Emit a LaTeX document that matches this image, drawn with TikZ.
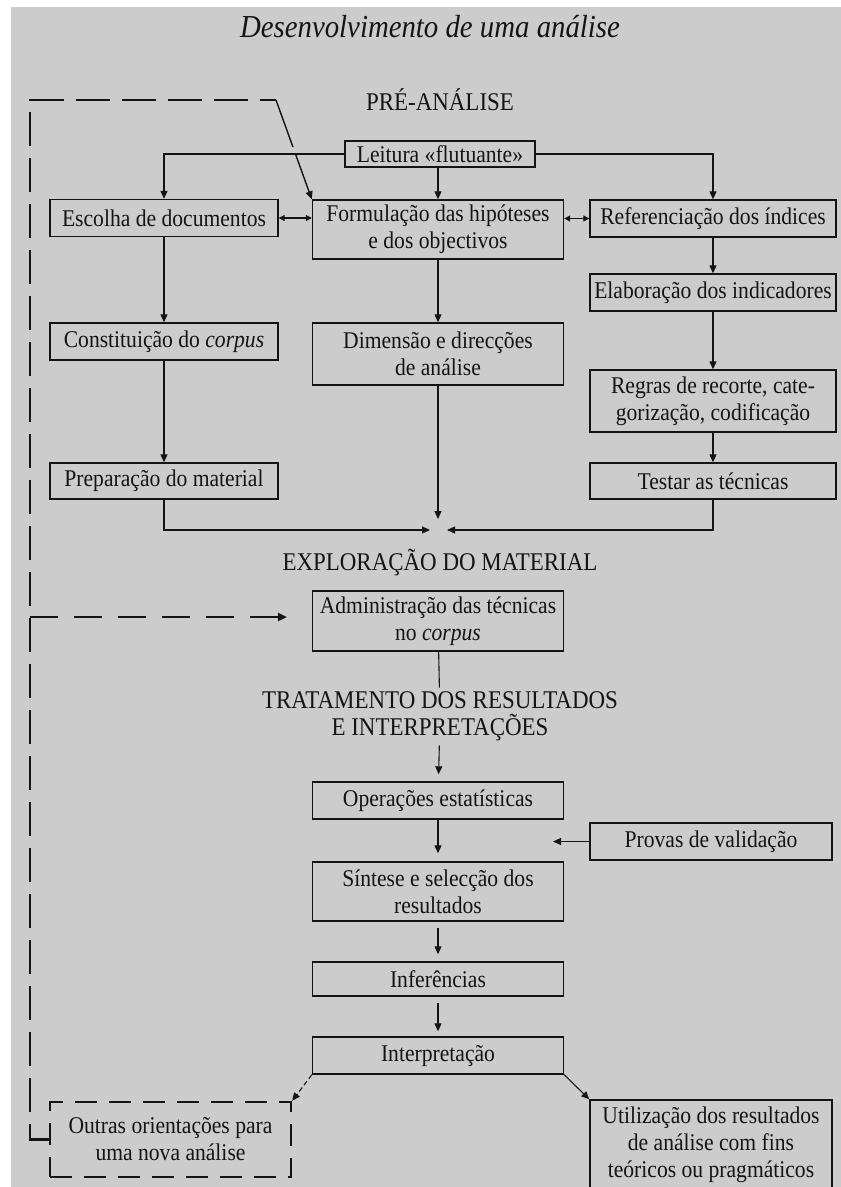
\documentclass[tikz,border=0pt]{standalone}
\usepackage{fontspec}
\setmainfont{Liberation Serif}[FakeStretch=0.9]
\definecolor{dgFundo}{HTML}{CCCCCC}
\definecolor{dgTinta}{HTML}{141414}
\usetikzlibrary{calc,positioning,arrows.meta}

\begin{document}
\begin{tikzpicture}[x=1pt, y=-1pt,
  etapa/.style={draw=dgTinta, line width=1.4pt, text=dgTinta,
    minimum width=#1, minimum height=37pt, inner xsep=1pt, inner ysep=1pt,
    align=center, font=\fontsize{24}{27}\selectfont},
  etapa/.default=251pt,
  fase/.style={text=dgTinta, align=center, font=\fontsize{25.5}{27}\selectfont},
  arr/.style={-{Triangle[length=8pt, width=7pt]}, line width=1.1pt, color=dgTinta},
  dupla/.style={{Triangle[length=6pt, width=6pt]}-{Triangle[length=6pt, width=6pt]},
    line width=1.1pt, color=dgTinta},
  retorno/.style={line width=2.2pt, color=dgTinta, dash pattern=on 34pt off 12pt}
]
  \useasboundingbox (0,0) rectangle (841,1187);
  \fill[dgFundo] (11,7) rectangle (841,1187);

  \node[font=\fontsize{32}{34}\selectfont\itshape, text=dgTinta] (titulo) at (430,27) {Desenvolvimento de uma análise};

  % Pre-analise
  \node[fase] (preanalise) at (440,100) {PRÉ-ANÁLISE};
  \node[etapa=190pt, minimum height=26pt] (leitura) at (440,154) {Leitura «flutuante»};
  \node[etapa=228pt] (escolha) at (164,218) {Escolha de documentos};
  \node[etapa, minimum height=59pt] (formulacao) at (438,229.5) {Formulação das hipóteses\\e dos objectivos};
  \node[etapa=246pt] (referencia) at (713,218.5) {Referenciação dos índices};
  \node[etapa=246pt] (elaboracao) at (713,292.5) {Elaboração dos indicadores};
  \node[etapa=228pt] (constituicao) at (164,341.5) {Constituição do \textit{corpus}};
  \node[etapa, minimum height=62pt] (dimensao) at (438,354) {Dimensão e direcções\\de análise};
  \node[etapa=246pt, minimum height=62pt] (regras) at (713,401) {Regras de recorte, cate-\\gorização, codificação};
  \node[etapa=228pt, minimum height=36pt] (preparacao) at (164,481) {Preparação do material};
  \node[etapa=246pt, minimum height=36pt] (testar) at (713,481) {Testar as técnicas};
  \coordinate (juncao) at (438,519);
  \coordinate (juncaoE) at (430,530);
  \coordinate (juncaoD) at (447,530);

  \draw[arr] (leitura.west) -| (escolha.north);
  \draw[arr] (leitura.east) -| (referencia.north);
  \draw[arr] (leitura.south -| formulacao) -- (formulacao.north);
  \draw[dupla] (escolha.east) -- (escolha.east -| formulacao.west);
  \draw[dupla] (formulacao.east |- referencia.west) -- (referencia.west);
  \draw[arr] (escolha) -- (constituicao);
  \draw[arr] (constituicao) -- (preparacao);
  \draw[arr] (formulacao) -- (dimensao);
  \draw[arr] (dimensao) -- (juncao);
  \draw[arr] (referencia) -- (elaboracao);
  \draw[arr] (elaboracao) -- (regras);
  \draw[arr] (regras) -- (testar);
  \draw[arr] (preparacao.south) |- (juncaoE);
  \draw[arr] (testar.south) |- (juncaoD);

  % Exploracao e tratamento
  \node[fase] (exploracao) at (440,563) {EXPLORAÇÃO DO MATERIAL};
  \node[etapa, minimum height=60pt] (administracao) at (438,621) {Administração das técnicas\\no \textit{corpus}};
  \node[fase, inner ysep=4pt] (tratamento) at (440,716.5) {TRATAMENTO DOS RESULTADOS\\E INTERPRETAÇÕES};
  \node[etapa] (operacoes) at (438,800.5) {Operações estatísticas};
  \node[etapa=242pt] (provas) at (711,841.5) {Provas de validação};
  \coordinate (validacao) at (553,841.5);
  \node[etapa, minimum height=59pt] (sintese) at (438,891.5) {Síntese e selecção dos\\resultados};
  \node[etapa, minimum height=34pt] (inferencias) at (438,979) {Inferências};
  \node[etapa] (interpretacao) at (438,1055.5) {Interpretação};
  \node[etapa=241pt, minimum height=75pt, line width=2.4pt, dash pattern=on 22pt off 12pt] (outras) at (170.5,1139.5) {Outras orientações para\\uma nova análise};
  \node[etapa=242pt, minimum height=90pt] (utilizacao) at (711,1145) {Utilização dos resultados\\de análise com fins\\teóricos ou pragmáticos};

  \draw[line width=1.1pt, color=dgTinta] (administracao) -- (tratamento);
  \draw[arr, shorten >=7pt] (tratamento) -- (operacoes);
  \draw[arr, shorten >=8pt] (operacoes) -- (sintese);
  \draw[arr] (provas) -- (validacao);
  \draw[arr, shorten <=6pt, shorten >=7pt] (sintese) -- (inferencias);
  \draw[arr, shorten <=6pt, shorten >=5pt] (inferencias) -- (interpretacao);
  \draw[arr, dash pattern=on 5pt off 3pt] (interpretacao.south west) -- (outras.north east);
  \draw[arr] (interpretacao.south east) -- (utilizacao.north west);

  % Retorno
  \coordinate (canto) at (30,100);
  \coordinate (quebra) at (276,100);
  \coordinate (ramo) at (30,617);
  \coordinate (alvo) at (287,617);
  \draw[retorno] (outras.west) -| (canto) -- (quebra);
  \draw[arr, line width=1.4pt, dash pattern=on 50pt off 7pt] (quebra) -- (formulacao.north west);
  \draw[retorno, dash pattern=on 28pt off 16pt, -{Triangle[length=9pt, width=8pt]}] (ramo) -- (alvo);
\end{tikzpicture}
\end{document}
